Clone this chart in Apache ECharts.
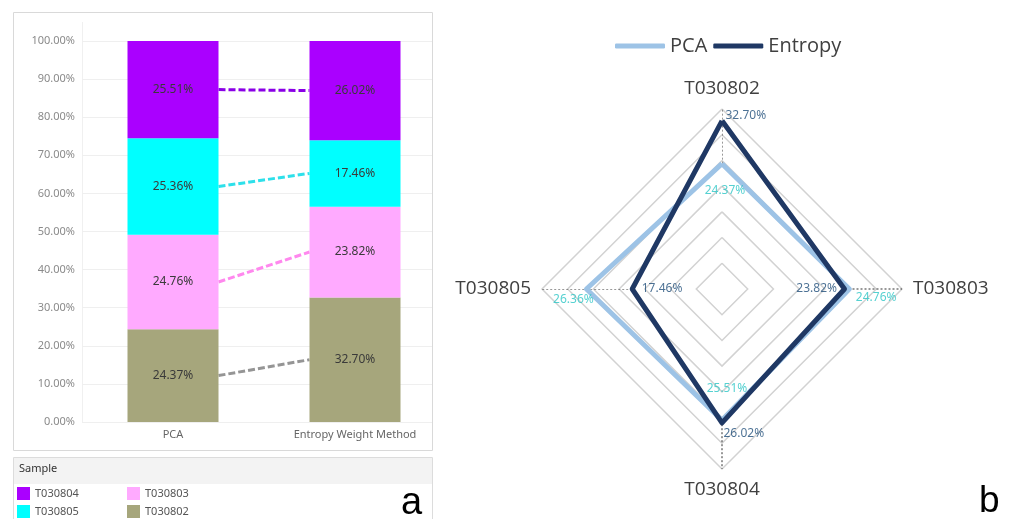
<!DOCTYPE html>
<html><head><meta charset="utf-8">
<script src="https://cdn.jsdelivr.net/npm/echarts@6/dist/echarts.min.js"></script>
<style>html,body{margin:0;padding:0;background:#fff}#c{width:1011px;height:519px}</style>
</head><body><div id="c"></div>
<script>
// ---- Panel a: stacked 100% bars ----
const methods = ['PCA', 'Entropy Weight Method'];
const stackSamples = ['T030802', 'T030803', 'T030805', 'T030804']; // bottom -> top
const share802 = [24.37, 32.70];
const share803 = [24.76, 23.82];
const share805 = [25.36, 17.46];
const share804 = [25.51, 26.02];
const yTicks = [0, 10, 20, 30, 40, 50, 60, 70, 80, 90, 100];

// ---- Panel b: radar ----
const radarAxes = ['T030802', 'T030803', 'T030804', 'T030805']; // top, right, bottom, left
const pcaRadar = [24.37, 24.76, 25.51, 26.36];
const entropyRadar = [32.70, 23.82, 26.02, 17.46];
const radarMax = 35;
const radarSplits = 7;

const barColors = {T030802:'#A6A67C', T030803:'#FFAAFF', T030805:'#00FFFF', T030804:'#AA00FF'};
const linkColors = {T030802:'#959595', T030803:'#FF88EE', T030805:'#2EE0EA', T030804:'#8A00E6'};
const shares = {T030802:share802, T030803:share803, T030805:share805, T030804:share804};
const FONT = 'Noto Sans';
const BAR_FRAC = 0.5; // bar width as a fraction of a category band

const chart = echarts.init(document.getElementById('c'));

const barSeries = stackSamples.map(s => ({
  name: s, type: 'bar', stack: 'total', xAxisIndex: 1, yAxisIndex: 1,
  barWidth: (BAR_FRAC * 100) + '%', z: 3, data: shares[s],
  itemStyle: {color: barColors[s]},
  label: {show: true, position: 'inside', color: '#3a3a3a', fontSize: 12, fontFamily: FONT,
          formatter: p => p.value.toFixed(2) + '%'}
}));
const linkSeries = stackSamples.map((s, i) => {
  const pts = methods.map((m, j) => {
    let below = 0;
    for (let k = 0; k < i; k++) below += shares[stackSamples[k]][j];
    const edge = j === 0 ? j + 0.5 + BAR_FRAC / 2 : j + 0.5 - BAR_FRAC / 2;
    return [edge, below + shares[s][j] / 2];
  });
  return {type: 'line', xAxisIndex: 2, yAxisIndex: 1, z: 1, symbol: 'none', silent: true,
    data: pts, lineStyle: {color: linkColors[s], width: 3, type: [7, 3]}};
});

const ccw = [0, 3, 2, 1];
const radarIndicators = ccw.map(i => ({name: radarAxes[i], min: 0, max: radarMax}));

const pcaLabelPos = [
  {position: 'bottom', distance: 20, offset: [3, 0]},
  {position: 'right', distance: 6, offset: [0, 9]},
  {position: 'top', distance: 25, offset: [5, 0]},
  {position: 'bottom', distance: 4, offset: [-13, 0]}
];
const entLabelPos = [
  {position: 'right', distance: 3, offset: [0, -5]},
  {position: 'left', distance: 7, offset: [0, 0]},
  {position: 'right', distance: 1, offset: [0, 11]},
  {position: 'right', distance: 9, offset: [0, 0]}
];
function labelData(vals, specs, color) {
  return vals.map((v, i) => ({
    value: [v, radarAxes[i]],
    label: Object.assign({show: true, color: color, fontSize: 12, fontFamily: FONT,
      formatter: p => p.value[0].toFixed(2) + '%'}, specs[i])
  }));
}
const axisDots = radarAxes.map((a, i) => ({
  type: 'line', coordinateSystem: 'polar', symbol: 'none', silent: true, z: 1,
  data: [[Math.min(pcaRadar[i], entropyRadar[i]), a], [radarMax, a]],
  lineStyle: {color: '#333', width: 1, type: [2, 2]}
}));

const legendText = {color: '#555', fontSize: 11, fontFamily: FONT};

chart.setOption({
  animation: false,
  textStyle: {fontFamily: FONT},
  grid: [
    {left: 82, top: 41, width: 350, height: 381},
    {left: 82, top: 41, width: 364, height: 381}
  ],
  xAxis: [
    {gridIndex: 0, type: 'category', data: methods, show: false},
    {gridIndex: 1, type: 'category', data: methods,
     axisLine: {show: false}, axisTick: {show: false},
     axisLabel: {color: '#666', fontSize: 11, margin: 7, fontFamily: FONT}},
    {gridIndex: 1, type: 'value', min: 0, max: methods.length, show: false, splitLine: {show: false}}
  ],
  yAxis: [
    {gridIndex: 0, type: 'value', min: 0, max: 100, interval: 10,
     axisLine: {show: false}, axisTick: {show: false},
     axisLabel: {color: '#8a8a8a', fontSize: 11, margin: 7, fontFamily: FONT,
                 formatter: v => v.toFixed(2) + '%'},
     splitLine: {lineStyle: {color: '#efefef', width: 1}}},
    {gridIndex: 1, type: 'value', min: 0, max: 100, show: false, splitLine: {show: false}}
  ],
  radar: {
    center: [722, 289], radius: 180, shape: 'polygon', splitNumber: radarSplits,
    indicator: radarIndicators, nameGap: 11,
    axisName: {color: '#404040', fontSize: 19, fontFamily: 'Open Sans'},
    splitLine: {lineStyle: {color: '#d2d2d2', width: 1.5}},
    splitArea: {show: false},
    axisLine: {show: false}, axisTick: {show: false}, axisLabel: {show: false}
  },
  polar: {center: [722, 289], radius: 180},
  angleAxis: {type: 'category', data: radarAxes, startAngle: 90, clockwise: true, boundaryGap: false, show: false},
  radiusAxis: {type: 'value', min: 0, max: radarMax, show: false},
  legend: [
    {data: ['T030804', 'T030805'], orient: 'vertical', left: 17, top: 487, padding: 0, itemWidth: 13, itemHeight: 13,
     itemGap: 5, icon: 'rect', textStyle: legendText, selectedMode: false},
    {data: ['T030803', 'T030802'], orient: 'vertical', left: 127, top: 487, padding: 0, itemWidth: 13, itemHeight: 13,
     itemGap: 5, icon: 'rect', textStyle: legendText, selectedMode: false},
    {data: ['PCA', 'Entropy'], left: 610, top: 31, itemWidth: 50, itemHeight: 5, itemGap: 6,
     icon: 'roundRect', textStyle: {color: '#404040', fontSize: 20, fontFamily: 'Open Sans'}, selectedMode: false}
  ],
  graphic: [
    {type: 'rect', shape: {x: 13.5, y: 12.5, width: 419, height: 438}, style: {fill: 'none', stroke: '#d9d9d9', lineWidth: 1}, silent: true},
    {type: 'line', shape: {x1: 82.5, y1: 22, x2: 82.5, y2: 422}, style: {stroke: '#f0f0f0', lineWidth: 1}, silent: true},
    {type: 'rect', shape: {x: 13.5, y: 457.5, width: 419, height: 70}, style: {fill: '#fff', stroke: '#dcdcdc', lineWidth: 1}, silent: true, z: -1},
    {type: 'rect', shape: {x: 14, y: 458, width: 418, height: 26}, style: {fill: '#f3f3f3'}, silent: true, z: -1},
    {type: 'text', left: 19, top: 463, style: {text: 'Sample', fill: '#333', font: '11px "Noto Sans"'}, silent: true},
    {type: 'text', left: 401, top: 485, style: {text: 'a', fill: '#000', font: '38px "Liberation Sans"'}, silent: true},
    {type: 'text', left: 979, top: 483, style: {text: 'b', fill: '#000', font: '37px "Liberation Sans"'}, silent: true}
  ],
  series: [
    ...linkSeries,
    ...barSeries,
    ...axisDots,
    {type: 'radar', name: 'PCA', color: '#9DC3E6', symbol: 'none', z: 3,
     lineStyle: {width: 5, color: '#9DC3E6'},
     data: [{name: 'PCA', value: ccw.map(i => pcaRadar[i])}]},
    {type: 'radar', name: 'Entropy', color: '#1F3864', symbol: 'none', z: 4,
     lineStyle: {width: 5, color: '#1F3864'},
     data: [{name: 'Entropy', value: ccw.map(i => entropyRadar[i])}]},
    {type: 'scatter', coordinateSystem: 'polar', symbolSize: 1, z: 6, silent: true,
     itemStyle: {color: 'rgba(0,0,0,0)'}, data: labelData(pcaRadar, pcaLabelPos, '#2CC6C6')},
    {type: 'scatter', coordinateSystem: 'polar', symbolSize: 1, z: 6, silent: true,
     itemStyle: {color: 'rgba(0,0,0,0)'}, data: labelData(entropyRadar, entLabelPos, '#1F4E79')}
  ]
});
</script></body></html>
